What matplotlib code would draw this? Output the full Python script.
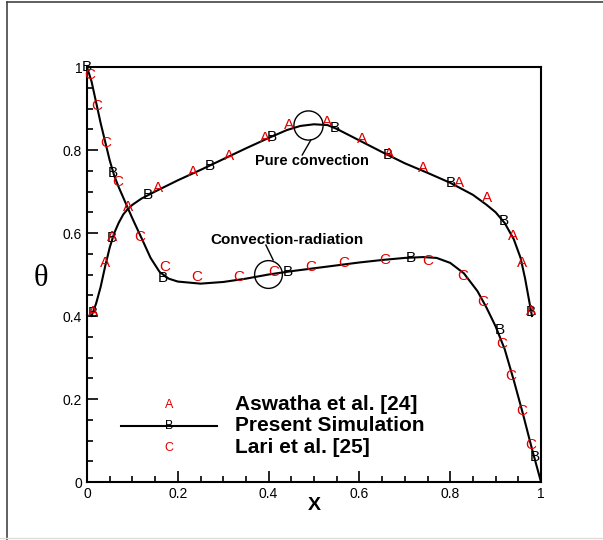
import matplotlib
matplotlib.use("Agg")
import matplotlib.pyplot as plt
from matplotlib.lines import Line2D
from matplotlib.ticker import MultipleLocator

plt.rcParams["font.family"] = ["Liberation Sans", "DejaVu Sans"]

RED = "#e00000"

# present simulation, pure convection curve
conv_x = [0.01, 0.02, 0.03, 0.04, 0.05, 0.06, 0.07, 0.08, 0.09, 0.10, 0.12, 0.15,
          0.20, 0.25, 0.30, 0.35, 0.40, 0.44, 0.47, 0.50, 0.53, 0.55, 0.60, 0.65,
          0.70, 0.75, 0.80, 0.85, 0.88, 0.90, 0.92, 0.94, 0.955, 0.965, 0.975, 0.98]
conv_y = [0.40, 0.43, 0.47, 0.52, 0.565, 0.60, 0.625, 0.645, 0.658, 0.668, 0.683, 0.700,
          0.727, 0.752, 0.778, 0.804, 0.829, 0.848, 0.858, 0.862, 0.860, 0.851, 0.823, 0.795,
          0.768, 0.745, 0.721, 0.692, 0.668, 0.650, 0.624, 0.585, 0.540, 0.490, 0.430, 0.400]

# present simulation, convection-radiation curve
rad_x = [0.0, 0.01, 0.02, 0.03, 0.04, 0.05, 0.06, 0.07, 0.08, 0.09, 0.10, 0.12, 0.14,
         0.16, 0.18, 0.20, 0.25, 0.30, 0.35, 0.40, 0.45, 0.50, 0.55, 0.60, 0.65, 0.70,
         0.74, 0.77, 0.80, 0.83, 0.86, 0.88, 0.90, 0.92, 0.94, 0.96, 0.98, 1.0]
rad_y = [1.0, 0.965, 0.915, 0.865, 0.82, 0.775, 0.738, 0.71, 0.685, 0.66, 0.635, 0.588, 0.54,
         0.506, 0.49, 0.483, 0.478, 0.482, 0.49, 0.50, 0.508, 0.515, 0.522, 0.529, 0.535, 0.54,
         0.542, 0.54, 0.528, 0.503, 0.46, 0.42, 0.375, 0.32, 0.245, 0.165, 0.08, 0.0]

# "B" symbols on the simulation curves
b_x = [0.013, 0.055, 0.134, 0.271, 0.407, 0.546, 0.663, 0.802, 0.918, 0.978,
       0.0, 0.057, 0.167, 0.443, 0.714, 0.91, 0.987]
b_y = [0.407, 0.588, 0.692, 0.761, 0.831, 0.853, 0.788, 0.720, 0.629, 0.410,
       1.0, 0.745, 0.492, 0.506, 0.540, 0.366, 0.060]

# Aswatha et al. [24]
a_x = [0.013, 0.04, 0.055, 0.09, 0.156, 0.233, 0.313, 0.392, 0.445, 0.528,
       0.606, 0.665, 0.741, 0.819, 0.881, 0.938, 0.958, 0.978]
a_y = [0.41, 0.528, 0.59, 0.663, 0.708, 0.747, 0.786, 0.829, 0.860, 0.867,
       0.826, 0.79, 0.757, 0.72, 0.684, 0.593, 0.528, 0.412]

# Lari et al. [25]
c_x = [0.007, 0.022, 0.042, 0.068, 0.117, 0.172, 0.242, 0.335, 0.412, 0.493,
       0.566, 0.656, 0.751, 0.828, 0.872, 0.913, 0.934, 0.958, 0.978]
c_y = [0.98, 0.906, 0.817, 0.723, 0.59, 0.518, 0.494, 0.494, 0.506, 0.518,
       0.528, 0.535, 0.533, 0.496, 0.434, 0.333, 0.255, 0.171, 0.089]

ticks = [0, 0.2, 0.4, 0.6, 0.8, 1.0]
tick_labels = ["0", "0.2", "0.4", "0.6", "0.8", "1"]

fig = plt.figure(figsize=(6.03, 5.40), dpi=100)
ax = fig.add_axes([0.1443, 0.1074, 0.7529, 0.7685])

ax.plot(conv_x, conv_y, color="black", lw=1.5, zorder=2)
ax.plot(rad_x, rad_y, color="black", lw=1.5, zorder=2)

for x, y in zip(b_x, b_y):
    ax.text(x, y, "B", color="black", fontsize=11, ha="center", va="center", zorder=3)
for x, y in zip(a_x, a_y):
    ax.text(x, y, "A", color=RED, fontsize=11, ha="center", va="center", zorder=4)
for x, y in zip(c_x, c_y):
    ax.text(x, y, "C", color=RED, fontsize=11, ha="center", va="center", zorder=4)

# annotations
ax.plot([0.487], [0.860], marker="o", ms=21, mfc="none", mec="black", mew=1.0, zorder=5)
ax.plot([0.493, 0.474], [0.824, 0.788], color="black", lw=1.0)
ax.text(0.496, 0.773, "Pure convection", fontsize=10.5, fontweight="bold",
        ha="center", va="center")
ax.plot([0.399], [0.501], marker="o", ms=20, mfc="none", mec="black", mew=1.0, zorder=5)
ax.plot([0.41, 0.394], [0.535, 0.571], color="black", lw=1.0)
ax.text(0.44, 0.583, "Convection-radiation", fontsize=11, fontweight="bold",
        ha="center", va="center")

# legend drawn by hand
ax.text(0.181, 0.186, "A", color=RED, fontsize=9, ha="center", va="center",
        transform=ax.transAxes)
ax.plot([0.075, 0.286], [0.135, 0.135], color="black", lw=1.5, transform=ax.transAxes)
ax.text(0.181, 0.135, "B", color="black", fontsize=9, ha="center", va="center",
        transform=ax.transAxes)
ax.text(0.181, 0.082, "C", color=RED, fontsize=9, ha="center", va="center",
        transform=ax.transAxes)
for yy, lab in zip([0.186, 0.135, 0.082],
                   ["Aswatha et al. [24]", "Present Simulation", "Lari et al. [25]"]):
    ax.text(0.326, yy, lab, fontsize=15, fontweight="bold", ha="left", va="center",
            transform=ax.transAxes)

ax.set_xlim(0, 1)
ax.set_ylim(0, 1)
ax.set_xticks(ticks)
ax.set_xticklabels(tick_labels)
ax.set_yticks(ticks)
ax.set_yticklabels(tick_labels)
ax.xaxis.set_minor_locator(MultipleLocator(0.05))
ax.yaxis.set_minor_locator(MultipleLocator(0.05))
ax.tick_params(which="both", direction="in", top=False, right=False, labelsize=10,
               width=1.2)
ax.tick_params(which="major", length=8)
ax.tick_params(which="minor", length=4.5)
for s in ax.spines.values():
    s.set_linewidth(1.5)

ax.set_xlabel("X", fontsize=14, fontweight="bold", labelpad=-3)
fig.text(41 / 603, 1 - 278 / 540, "θ", fontsize=22, family="Liberation Serif",
         ha="center", va="center")

# page frame
fig.add_artist(Line2D([7 / 603, 7 / 603], [0, 1 - 2 / 540], color="#444444", lw=1.2))
fig.add_artist(Line2D([7 / 603, 1], [1 - 2 / 540, 1 - 2 / 540], color="#444444", lw=1.2))
fig.add_artist(Line2D([0, 1], [2 / 540, 2 / 540], color="#dddddd", lw=1.0))

fig.savefig("out.png", dpi=100)
